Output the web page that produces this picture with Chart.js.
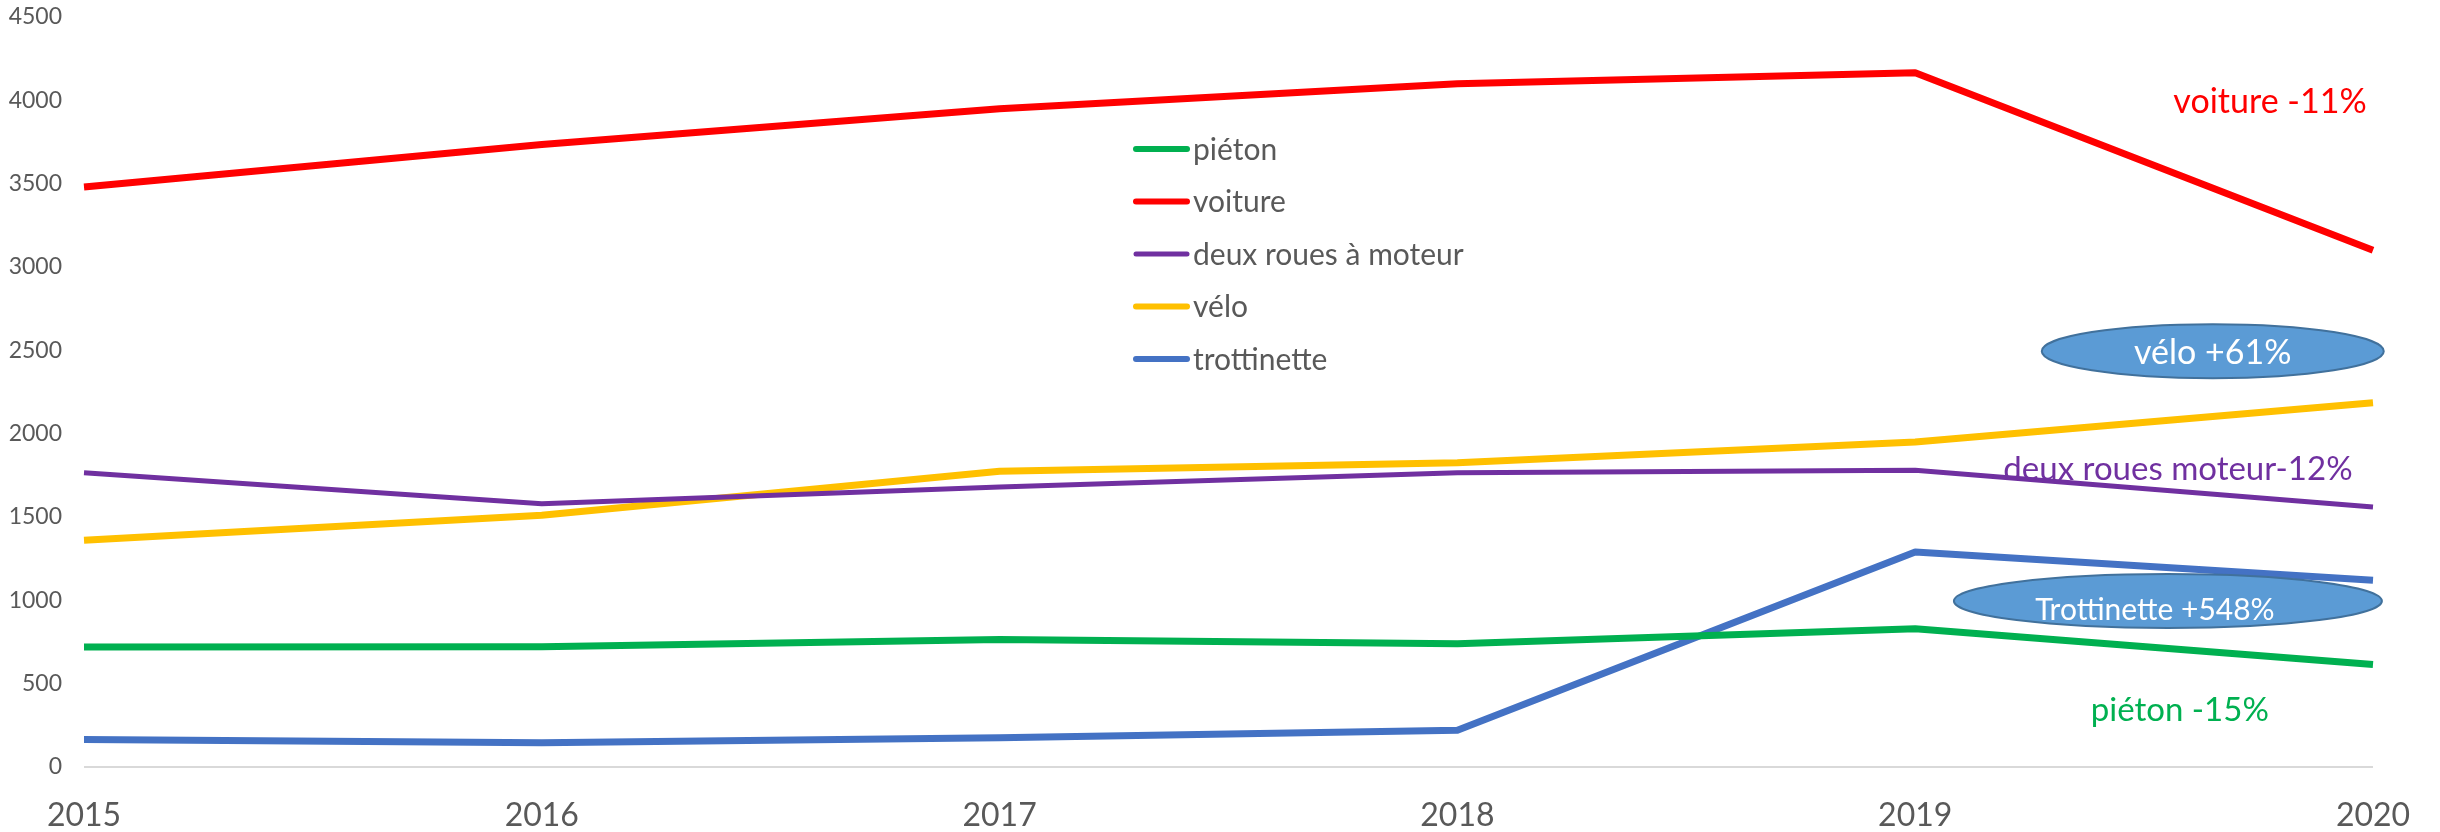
<!DOCTYPE html>
<html>
<head>
<meta charset="utf-8">
<script src="https://cdn.jsdelivr.net/npm/chart.js@4.4.1/dist/chart.umd.min.js"></script>
<style>
  html, body { margin: 0; padding: 0; background: #fff; }
  #wrap { width: 2440px; height: 832px; }
</style>
</head>
<body>
<div id="wrap"><canvas id="line-chart" width="2440" height="832"></canvas></div>
<script>
const years = ["2015", "2016", "2017", "2018", "2019", "2020"];

const pieton = [720, 722, 765, 740, 830, 615];
const voiture = [3480, 3735, 3950, 4100, 4165, 3100];
const deuxRoues = [1765, 1580, 1680, 1765, 1780, 1560];
const velo = [1360, 1510, 1775, 1825, 1950, 2185];
const trottinette = [165, 145, 175, 220, 1290, 1120];

const seriesNames = ["piéton", "voiture", "deux roues à moteur", "vélo", "trottinette"];
const seriesColors = ["#00B050", "#FF0000", "#7030A0", "#FFC000", "#4472C4"];
const seriesWidths = [7, 7, 5, 7, 7];

// notes on the right side: [text, x index, y value, colour, bubble?]
const notes = [
  ["voiture -11%", 4.775, 4000, "#FF0000", false],
  ["vélo +61%", 4.65, 2495, "#ffffff", true],
  ["deux roues moteur-12%", 4.574, 1800, "#7030A0", false],
  ["Trottinette +548%", 4.552, 996, "#ffffff", true],
  ["piéton -15%", 4.578, 354, "#00B050", false],
];

const FONT = "Lato";

const sideNotes = {
  id: "sideNotes",
  afterDatasetsDraw(chart) {
    const ctx = chart.ctx;
    const x = chart.scales.x, y = chart.scales.y;
    ctx.save();
    notes.forEach(([text, xi, yv, color, bubble]) => {
      const cx = x.getPixelForValue(xi);
      const cy = y.getPixelForValue(yv);
      let size = 33;
      if (bubble) {
        const small = text.startsWith("T");
        const rx = small ? 214 : 171;
        ctx.beginPath();
        ctx.ellipse(cx, cy, rx, 27, 0, 0, Math.PI * 2);
        ctx.fillStyle = "#5B9BD5";
        ctx.fill();
        ctx.lineWidth = 2;
        ctx.strokeStyle = "#41719C";
        ctx.stroke();
        size = small ? 30 : 34;
      } else if (text.startsWith("d")) {
        size = 33;
      } else if (text.startsWith("v")) {
        size = 34;
      }
      ctx.fillStyle = color;
      ctx.textAlign = "center";
      ctx.textBaseline = "middle";
      ctx.font = size + "px " + FONT;
      ctx.fillText(text, cx - (text.startsWith("T") ? 13 : 0), cy + (text.startsWith("T") ? 9 : 2));
    });
    ctx.restore();
  },
};

const boxLegend = {
  id: "boxLegend",
  afterDraw(chart) {
    const ctx = chart.ctx;
    ctx.save();
    ctx.font = "30px " + FONT;
    ctx.textBaseline = "middle";
    ctx.textAlign = "left";
    chart.data.datasets.forEach((ds, i) => {
      const ly = 149 + i * 52.5;
      ctx.beginPath();
      ctx.moveTo(1136, ly);
      ctx.lineTo(1187, ly);
      ctx.lineCap = "round";
      ctx.lineWidth = ds.borderWidth === 5 ? 5 : 6;
      ctx.strokeStyle = ds.borderColor;
      ctx.stroke();
      ctx.fillStyle = "#595959";
      ctx.fillText(ds.label, 1193, ly + 1);
    });
    ctx.restore();
  },
};

const allSeries = [pieton, voiture, deuxRoues, velo, trottinette];

new Chart(document.getElementById("line-chart"), {
  type: "line",
  data: {
    labels: years,
    datasets: allSeries.map((d, i) => ({
      label: seriesNames[i],
      data: d,
      borderColor: seriesColors[i],
      backgroundColor: seriesColors[i],
      borderWidth: seriesWidths[i],
      pointRadius: 0,
      tension: 0,
      borderJoinStyle: "round",
      fill: false,
    })),
  },
  options: {
    responsive: false,
    animation: false,
    layout: { padding: { top: 17, right: 67, left: 0, bottom: 0 } },
    scales: {
      x: {
        offset: false,
        grid: { display: false, drawTicks: false },
        border: { display: false },
        ticks: { color: "#595959", font: { family: FONT, size: 32 }, padding: 29, maxRotation: 0 },
        afterFit(scale) {
          scale.height = 65;
          scale.paddingLeft = 0;
          scale.paddingRight = 0;
        },
      },
      y: {
        min: 0,
        max: 4500,
        ticks: {
          stepSize: 500,
          color: "#595959",
          font: { family: FONT, size: 23 },
          padding: 22,
          callback: (v) => String(v),
        },
        grid: {
          drawTicks: false,
          lineWidth: 2,
          color: (c) => (c.tick && c.tick.value === 0 ? "#D9D9D9" : "rgba(0,0,0,0)"),
        },
        border: { display: false },
        afterFit(scale) {
          scale.width = 84;
          scale.paddingTop = 0;
          scale.paddingBottom = 0;
        },
      },
    },
    plugins: {
      legend: { display: false },
      tooltip: { enabled: false },
    },
  },
  plugins: [sideNotes, boxLegend],
});
</script>
</body>
</html>
